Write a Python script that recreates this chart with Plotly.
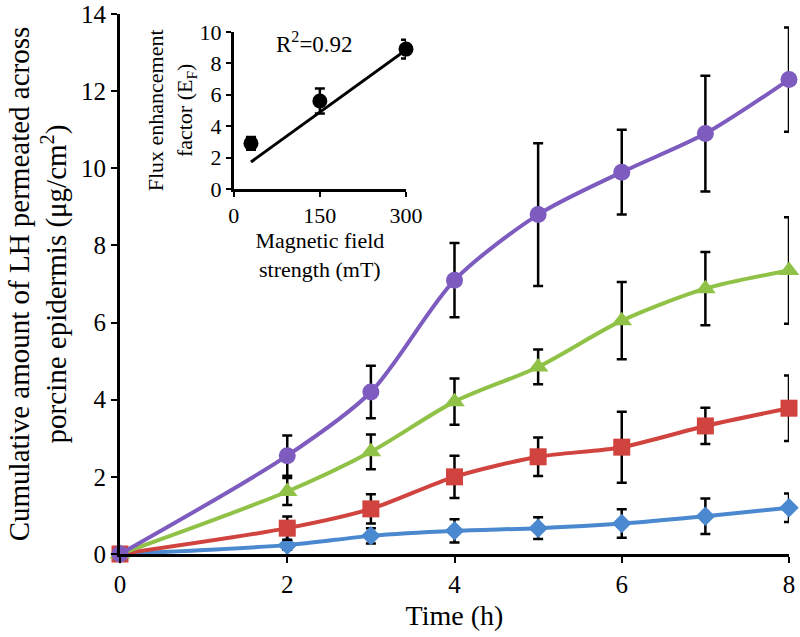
import plotly.graph_objects as go

# ---- main chart data ----
time_h = [0, 2, 3, 4, 5, 6, 7, 8]

blue_y = [0, 0.23, 0.47, 0.60, 0.67, 0.79, 0.98, 1.20]
blue_err = [None, 0.12, 0.20, 0.30, 0.28, 0.37, 0.46, 0.37]

red_y = [0, 0.67, 1.17, 2.00, 2.52, 2.77, 3.32, 3.78]
red_err = [None, 0.30, 0.38, 0.55, 0.50, 0.92, 0.47, 0.85]

green_y = [0, 1.62, 2.65, 3.95, 4.85, 6.05, 6.88, 7.35]
green_err = [None, 0.35, 0.45, 0.60, 0.45, 1.00, 0.95, 1.38]

purple_y = [0, 2.55, 4.20, 7.10, 8.80, 9.90, 10.90, 12.30]
purple_err = [None, 0.52, 0.68, 0.96, 1.85, 1.10, 1.50, 1.35]

# ---- inset data ----
field_mT = [30, 150, 300]
ef_y = [2.9, 5.6, 8.9]
ef_err = [0.4, 0.8, 0.6]
fit_x = [30, 300]
fit_y = [1.72, 8.85]

FONT = "Liberation Serif"

series = [
    ("blue", blue_y, blue_err, "#4a88cf", "diamond", 15),
    ("red", red_y, red_err, "#d0433f", "square", 17),
    ("green", green_y, green_err, "#8fc246", "triangle-up", 18),
    ("purple", purple_y, purple_err, "#7e5cbf", "circle", 17),
]

fig = go.Figure()
for name, ys, errs, col, sym, size in series:
    fig.add_trace(go.Scatter(
        x=time_h, y=ys, name=name, mode="lines+markers",
        line=dict(color=col, width=4, shape="spline", smoothing=0.8),
        marker=dict(symbol=sym, size=size, color=col, line=dict(width=0)),
        error_y=dict(type="data", array=errs, visible=True, color="black",
                     thickness=2.5, width=5),
        cliponaxis=False, showlegend=False,
    ))

# inset
fig.add_trace(go.Scatter(
    x=fit_x, y=fit_y, mode="lines", line=dict(color="black", width=3),
    xaxis="x2", yaxis="y2", showlegend=False, cliponaxis=False))
fig.add_trace(go.Scatter(
    x=field_mT, y=ef_y, mode="markers",
    marker=dict(symbol="circle", size=15, color="black"),
    error_y=dict(type="data", array=ef_err, visible=True, color="black",
                 thickness=2.5, width=5),
    xaxis="x2", yaxis="y2", showlegend=False, cliponaxis=False))

fig.update_layout(
    template=None,
    width=800, height=637,
    margin=dict(l=120, r=11, t=14, b=83, autoexpand=False),
    plot_bgcolor="white", paper_bgcolor="white",
    font=dict(family=FONT, color="black", size=24),
    xaxis=dict(
        range=[0, 8], tickvals=[0, 2, 4, 6, 8], showgrid=False, zeroline=False,
        showline=True, linecolor="black", linewidth=3, automargin=False,
        ticks="outside", ticklen=6, tickwidth=2, tickcolor="black",
        tickfont=dict(size=25, family=FONT),
        title=dict(text="Time (h)", font=dict(size=28, family=FONT), standoff=9),
    ),
    yaxis=dict(
        range=[0, 14], tickvals=list(range(0, 15, 2)), showgrid=False, zeroline=False,
        showline=True, linecolor="black", linewidth=3, automargin=False,
        ticks="outside", ticklen=6, tickwidth=2, tickcolor="black",
        tickfont=dict(size=25, family=FONT),
        title=dict(text="Cumulative amount of LH permeated across<br>porcine epidermis (\u03bcg/cm<sup>2</sup>)",
                   font=dict(size=29, family=FONT), standoff=6),
    ),
    xaxis2=dict(
        domain=[0.170, 0.4275], anchor="y2", range=[0, 300], tickvals=[0, 150, 300],
        showgrid=False, zeroline=False, showline=True, linecolor="black", linewidth=2.5,
        automargin=False,
        ticks="outside", ticklen=5, tickwidth=2, tickcolor="black",
        tickfont=dict(size=22, family=FONT),
        title=dict(text="Magnetic field<br>strength (mT)", font=dict(size=22, family=FONT), standoff=0),
    ),
    yaxis2=dict(
        domain=[0.676, 0.967], anchor="x2", range=[0, 10], tickvals=[0, 2, 4, 6, 8, 10],
        showgrid=False, zeroline=False, showline=True, linecolor="black", linewidth=2.5,
        automargin=False,
        ticks="outside", ticklen=5, tickwidth=2, tickcolor="black",
        tickfont=dict(size=22, family=FONT),
        title=dict(text="Flux enhancement<br>factor (E<sub>F</sub>)", font=dict(size=22, family=FONT), standoff=1),
    ),
    annotations=[dict(
        x=140, y=9.3, xref="x2", yref="y2", text="R<sup>2</sup>=0.92",
        showarrow=False, font=dict(size=23, family=FONT))],
)

fig.write_html("out.html",
               config={"displayModeBar": False},
               post_script="document.body.style.margin='0';document.body.style.overflow='hidden';")
